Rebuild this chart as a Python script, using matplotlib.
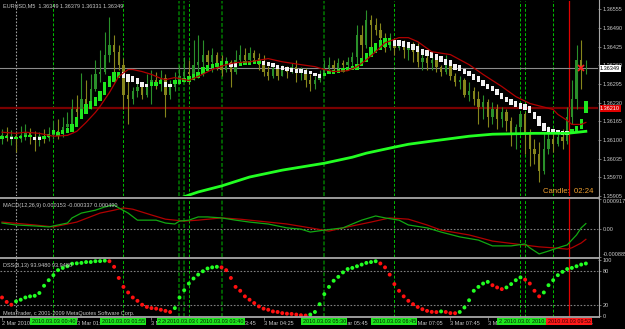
import numpy as np
import matplotlib.pyplot as plt
from matplotlib.lines import Line2D

W, H = 625, 329
BASE = 1.36      # prices below are stored as pips above 1.36000
PIP = 0.0001

# ---- EURUSD M5 candles (pips above 1.36000) ----
c_open = [10.3, 11.6, 10.6, 11.3, 10.3, 11.6, 12.3, 11.0, 9.9, 11.3,
          10.6, 11.6, 13.0, 12.3, 14.4, 15.4, 20.6, 19.9, 24.1, 22.4,
          27.6, 32.8, 33.8, 39.7, 43.1, 40.7, 36.2, 25.8, 24.1, 26.9,
          28.3, 25.8, 29.3, 31.0, 29.3, 31.7, 25.8, 28.3, 31.0, 32.4,
          33.8, 32.8, 36.2, 37.2, 39.7, 37.2, 39.7, 36.2, 34.5, 37.2,
          33.8, 37.9, 39.7, 37.9, 40.4, 38.6, 36.2, 33.8, 32.4, 35.2,
          32.4, 35.2, 33.8, 35.5, 33.8, 34.5, 31.0, 29.3, 31.0, 33.1,
          35.2, 36.2, 35.2, 36.9, 36.2, 37.2, 39.0, 46.6, 43.1, 51.8,
          50.1, 48.3, 45.6, 42.1, 44.9, 42.1, 44.2, 41.4, 42.1, 40.7,
          37.2, 38.6, 36.9, 37.9, 35.5, 33.8, 36.2, 32.4, 30.0, 31.0,
          25.8, 26.9, 24.1, 21.3, 23.1, 17.9, 20.6, 17.2, 19.9, 16.5,
          12.0, 14.4, 18.9, 12.0, 6.8, 5.1, -0.8, 6.8, 10.3, 8.5,
          11.0, 9.6, 17.9, 24.1, 37.9, 34.9]
c_close = [11.6, 10.6, 11.3, 10.3, 11.6, 12.3, 11.0, 9.9, 11.3, 10.6,
           11.6, 13.0, 12.3, 14.4, 15.4, 20.6, 19.9, 24.1, 22.4, 27.6,
           32.8, 33.8, 39.7, 43.1, 40.7, 36.2, 25.8, 24.1, 26.9, 28.3,
           25.8, 29.3, 31.0, 29.3, 31.7, 25.8, 28.3, 31.0, 32.4, 33.8,
           32.8, 36.2, 37.2, 39.7, 37.2, 39.7, 36.2, 34.5, 37.2, 33.8,
           37.9, 39.7, 37.9, 40.4, 38.6, 36.2, 33.8, 32.4, 35.2, 32.4,
           35.2, 33.8, 35.5, 33.8, 34.5, 31.0, 29.3, 31.0, 33.1, 35.2,
           36.2, 35.2, 36.9, 36.2, 37.2, 39.0, 46.6, 43.1, 51.8, 50.1,
           48.3, 45.6, 42.1, 44.9, 42.1, 44.2, 41.4, 42.1, 40.7, 37.2,
           38.6, 36.9, 37.9, 35.5, 33.8, 36.2, 32.4, 30.0, 31.0, 25.8,
           26.9, 24.1, 21.3, 23.1, 17.9, 20.6, 17.2, 19.9, 16.5, 12.0,
           14.4, 18.9, 12.0, 6.8, 5.1, -0.8, 6.8, 10.3, 8.5, 11.0,
           9.6, 17.9, 24.1, 37.9, 34.9, 34.9]
c_high = [13.7, 14.4, 13.4, 12.7, 14.8, 15.4, 14.1, 13.0, 12.7, 13.7,
          14.4, 16.5, 17.2, 17.9, 19.9, 24.1, 25.8, 33.4, 31.0, 32.8,
          37.9, 41.4, 47.6, 52.8, 46.6, 43.1, 38.6, 32.8, 28.3, 31.0,
          29.3, 32.8, 34.5, 33.8, 34.5, 32.8, 31.0, 33.8, 36.2, 39.0,
          37.9, 44.9, 46.6, 44.9, 41.4, 42.1, 40.7, 39.7, 39.0, 37.9,
          41.4, 43.1, 42.1, 42.4, 41.4, 40.4, 39.7, 35.9, 36.9, 35.9,
          36.2, 35.9, 36.9, 37.9, 35.5, 35.2, 32.8, 32.4, 34.5, 37.9,
          39.0, 37.9, 38.6, 37.9, 39.0, 40.7, 50.1, 50.1, 55.2, 53.5,
          52.5, 50.7, 47.3, 47.3, 45.6, 44.9, 44.9, 43.1, 44.2, 43.8,
          40.4, 39.7, 39.3, 38.6, 36.2, 39.7, 36.9, 33.4, 32.4, 31.7,
          30.0, 28.3, 26.9, 25.8, 24.1, 23.1, 22.4, 21.3, 20.6, 17.9,
          15.4, 19.6, 19.6, 13.7, 10.3, 9.2, 12.7, 14.8, 13.7, 12.7,
          13.7, 21.3, 31.0, 43.1, 44.9, 37.9]
c_low = [8.5, 9.6, 8.2, 5.8, 9.2, 9.9, 8.5, 6.1, 7.8, 8.9,
         9.6, 10.3, 10.3, 11.0, 12.7, 14.4, 15.4, 17.9, 19.9, 20.6,
         26.9, 30.3, 32.8, 37.2, 30.0, 34.5, 20.6, 15.4, 22.4, 24.8,
         24.1, 24.8, 22.4, 27.6, 26.9, 17.9, 24.1, 26.9, 29.3, 30.0,
         29.3, 31.0, 31.7, 32.1, 36.2, 33.8, 34.5, 32.1, 33.8, 28.3,
         32.8, 36.2, 36.6, 37.2, 37.2, 34.5, 32.1, 31.0, 31.7, 31.0,
         32.1, 31.7, 33.4, 30.3, 31.0, 28.6, 26.9, 27.6, 30.0, 32.8,
         33.8, 34.5, 34.5, 33.8, 34.5, 35.2, 35.2, 36.9, 42.1, 42.4,
         46.6, 43.1, 40.7, 41.4, 39.7, 41.4, 38.6, 37.9, 37.2, 35.5,
         34.5, 34.5, 34.5, 33.8, 32.1, 32.8, 31.0, 28.9, 27.6, 24.8,
         23.4, 22.0, 15.4, 17.2, 14.4, 15.4, 13.7, 14.4, 13.0, 7.8,
         6.8, 12.7, 5.1, 0.9, 1.6, -4.6, -1.9, 5.1, 5.8, 7.8,
         6.8, 8.5, 15.4, 20.6, 27.6, 33.1]

# Heiken Ashi bodies (pips above 1.36000)
ha_open = [10.3, 10.6, 11.0, 10.3, 10.6, 11.0, 11.0, 11.0, 11.0, 10.3,
           11.0, 12.0, 11.3, 12.0, 12.3, 12.7, 14.4, 17.2, 18.9, 20.6,
           21.7, 23.4, 25.8, 28.3, 30.0, 31.7, 33.8, 32.8, 32.1, 31.4,
           30.3, 29.6, 28.9, 28.9, 29.6, 30.0, 29.3, 29.3, 29.6, 30.0,
           30.3, 31.0, 31.7, 33.1, 34.1, 35.2, 35.5, 36.2, 36.2, 36.9,
           36.9, 35.9, 36.2, 36.2, 36.6, 36.6, 37.6, 37.2, 36.9, 36.2,
           35.9, 35.5, 35.2, 34.8, 34.8, 34.5, 34.1, 33.4, 32.8, 32.1,
           32.8, 33.1, 33.4, 33.8, 34.1, 34.5, 34.5, 35.9, 37.2, 39.0,
           40.4, 41.4, 42.4, 43.1, 44.9, 44.9, 44.5, 44.2, 43.5, 42.8,
           41.7, 41.4, 40.7, 40.0, 39.3, 38.3, 37.9, 36.6, 36.2, 34.8,
           34.1, 33.1, 32.1, 31.0, 29.6, 28.9, 27.6, 26.2, 25.1, 24.1,
           23.4, 22.7, 22.4, 21.7, 19.9, 18.2, 15.8, 14.4, 13.7, 13.4,
           13.0, 13.0, 12.0, 12.3, 13.7, 19.3]
ha_close = [11.3, 11.3, 10.3, 11.0, 11.3, 11.6, 11.6, 9.9, 9.9, 11.3,
            12.0, 13.4, 12.7, 13.4, 14.1, 15.4, 17.9, 20.6, 22.4, 23.4,
            25.1, 26.9, 30.0, 32.1, 33.8, 33.8, 31.7, 30.3, 30.0, 29.3,
            28.3, 28.6, 30.0, 30.0, 31.0, 28.6, 28.3, 30.7, 31.0, 31.4,
            32.1, 32.8, 33.8, 35.5, 36.2, 36.6, 36.9, 37.6, 37.6, 35.5,
            35.5, 37.2, 37.6, 37.6, 37.9, 37.9, 36.2, 35.9, 35.5, 34.8,
            34.5, 34.1, 33.8, 33.4, 33.4, 33.1, 32.8, 32.1, 31.4, 33.4,
            34.1, 34.5, 34.8, 35.2, 35.5, 35.9, 36.6, 38.6, 40.4, 42.4,
            43.8, 44.9, 45.6, 45.6, 42.8, 42.8, 42.4, 42.1, 41.4, 40.7,
            39.7, 39.3, 38.6, 37.9, 37.2, 36.2, 35.9, 34.5, 34.1, 32.8,
            32.1, 31.0, 30.0, 28.9, 27.6, 26.9, 25.5, 24.1, 23.1, 22.0,
            21.3, 20.6, 20.3, 19.3, 17.2, 14.8, 13.0, 12.3, 12.0, 12.0,
            11.6, 11.6, 13.7, 14.8, 17.2, 23.4]

# moving averages (bar, pips)
ma_red_bar = [0, 3, 5, 8, 11, 14, 16, 18, 20, 21, 23, 25, 27, 28, 30, 32, 34, 35, 37, 40,
              42, 45, 48, 50, 53, 57, 60, 64, 67, 69, 71, 74, 76, 78, 80, 82, 85, 87, 89, 92,
              96, 100, 103, 107, 110, 113, 118, 119, 121, 122, 124, 125]
ma_red = [12.7, 12.3, 12.7, 12.3, 11.3, 11.6, 13.0, 16.1, 19.6, 21.7, 26.5, 32.1, 34.5, 34.5,
          33.8, 32.8, 31.4, 31.0, 31.7, 30.7, 32.1, 34.5, 36.2, 36.9, 37.2, 38.3, 37.2, 36.2,
          35.5, 34.5, 33.8, 34.1, 35.5, 37.9, 40.7, 43.8, 45.6, 45.6, 44.2, 40.7, 39.7, 36.2,
          32.8, 28.6, 25.1, 22.7, 20.6, 18.9, 16.8, 15.4, 15.4, 16.1]
ma_green_bar = [38, 42, 47, 53, 60, 69, 75, 78, 84, 87, 92, 100, 105, 114, 121, 125]
ma_green = [-10.3, -8.1, -6.0, -2.9, -0.5, 1.9, 4.0, 5.4, 7.5, 8.5, 9.6, 11.3, 12.0, 12.3, 12.3, 13.0]

last_price = 1.36349
red_level = 1.36210
alert_bar, alert_pips = 124, 35.2
price_ticks = [1.35905, 1.35970, 1.36035, 1.36100, 1.36165, 1.36230,
               1.36295, 1.36360, 1.36425, 1.36490, 1.36555]

# ---- MACD(12,26,9) ----
macd_bar = [0, 3, 7, 10, 11, 14, 15, 17, 20, 22, 24, 25, 27, 29, 30, 33, 35, 37, 38, 40,
            42, 44, 47, 50, 53, 57, 61, 64, 66, 69, 73, 77, 80, 82, 85, 87, 91, 94, 98, 102,
            105, 109, 112, 113, 115, 117, 119, 121, 123, 124, 125]
macd_main = [17, 11, 8, 5, 8, 17, 33, 48, 57, 67, 73, 64, 48, 26, 26, 26, 17, 14, 23, 26,
             36, 36, 33, 26, 20, 14, 2, -2, -11, -5, 2, 26, 39, 33, 26, 11, 2, -11, -26, -36,
             -54, -54, -48, -60, -79, -70, -60, -51, -20, 2, 15.3]      # x 1e-5
sig_bar = [0, 7, 11, 16, 21, 24, 26, 28, 32, 35, 39, 42, 47, 51, 57, 61, 66, 70, 73, 79,
           83, 87, 91, 94, 100, 105, 110, 115, 118, 121, 122, 124, 125]
macd_signal = [20, 11, 5, 20, 48, 57, 64, 60, 42, 29, 23, 26, 33, 29, 20, 14, 2, -8, 2, 20,
               33, 29, 11, -5, -20, -39, -48, -57, -60, -64, -60, -45, -33.7]  # x 1e-5
macd_max, macd_min = 0.000917, -0.000885

# ---- DSS(8,13), one value per bar ----
dss = [33, 25, 20, 26, 29, 33, 35, 36, 41, 54, 64, 73, 82, 86, 89, 93.5, 94.2, 95, 96.5, 96.6,
       98, 98.2, 99, 98, 88, 68, 52, 42, 33, 27, 20, 16, 14, 13, 11, 9, 7, 14, 33, 46,
       58, 67, 74, 80, 85, 87, 88, 87, 82, 68, 52, 45, 35, 29, 23, 17, 13, 11, 8, 7,
       5, 4, 3.5, 2.4, 1.2, 0.6, 2.4, 7, 21, 39, 52, 63, 70, 78, 84, 86, 89, 92, 95, 96.5,
       98, 94, 87, 74, 57, 45, 35, 27, 21, 16, 12, 9, 7.2, 6.8, 8, 7, 5, 4.8, 7, 15,
       28, 45, 52, 58, 61, 55, 51, 48, 51, 57, 64, 69, 65, 58, 45, 35, 42, 55, 64, 73,
       79, 84, 86, 89, 92, 93.9]

# ---- vertical lines / time axis ----
sep_bar = 3                      # day separator
bright_bars = [11, 26, 40, 84, 111, 112, 118]
dark_bars = [38, 39, 47, 69]
now_bar = 121.4
box_bars = [11, 26, 38, 39, 40, 47, 69, 84, 111, 112, 118]
box_texts = ['2010.03.03 00:40', '2010.03.03 01:55', '2010.03.03 02:55', '2010.03.03 03:00',
             '2010.03.03 03:05', '2010.03.03 03:40', '2010.03.03 05:30', '2010.03.03 06:45',
             '2010.03.03 09:00', '2010.03.03 09:05', '2010.03.03 09:35']
now_text = '2010.03.03 09:52'
time_bars = [0, 8, 16, 24, 32, 40, 48, 56, 64, 72, 80, 88, 96, 104, 112, 120]
time_texts = ['2 Mar 2010', '3 Mar 00:25', '3 Mar 01:05', '3 Mar 01:45', '3 Mar 02:25',
              '3 Mar 03:05', '3 Mar 03:45', '3 Mar 04:25', '3 Mar 05:05', '3 Mar 05:45',
              '3 Mar 06:25', '3 Mar 07:05', '3 Mar 07:45', '3 Mar 08:25', '3 Mar 09:05',
              '3 Mar 09:45']

plt.rcParams['font.family'] = ['Liberation Sans', 'DejaVu Sans']
FS = 4.0
TXT = '#c8c8c8'
GRID = '#808080'


def px_rect(x0, y0, x1, y1):
    return [x0 / W, 1 - y1 / H, (x1 - x0) / W, (y1 - y0) / H]


def to_price(p):
    return BASE + np.asarray(p, dtype=float) * PIP


fig = plt.figure(figsize=(W / 100, H / 100), dpi=100)
fig.patch.set_facecolor('black')

ax_main = fig.add_axes(px_rect(0, 1, 598, 196))
ax_macd = fig.add_axes(px_rect(0, 199, 598, 257))
ax_dss = fig.add_axes(px_rect(0, 259, 598, 317))

n = len(c_open)
bars = np.arange(n)
for ax in (ax_main, ax_macd, ax_dss):
    ax.set_facecolor('black')
    ax.set_xlim(-0.43, 127.6)
    for s in ax.spines.values():
        s.set_visible(False)
    ax.yaxis.tick_right()
    ax.tick_params(axis='y', colors=GRID, labelcolor=TXT, labelsize=FS, length=2, pad=1.5, width=0.6)
    ax.tick_params(axis='x', bottom=False, labelbottom=False)
    ax.axvline(sep_bar, color='#a0a0a0', lw=0.8, ls=(0, (1.5, 1.5)), zorder=0.5)
    for b in bright_bars:
        ax.axvline(b, color='#00c000', lw=0.7, ls=(0, (3, 2)), zorder=0.5)
    for b in dark_bars:
        ax.axvline(b, color='#006000', lw=1.4, ls=(0, (2, 1)), zorder=0.5)
    ax.axvline(now_bar, color='#e00000', lw=0.9, zorder=0.5)

# ---- main window ----
o, c, hi, lo = map(to_price, (c_open, c_close, c_high, c_low))
cols = np.where(c >= o, '#2a902a', '#86861c')
ax_main.axhline(last_price, color='#8c8c8c', lw=0.8, zorder=0.6)
ax_main.axhline(red_level, color='#7a0000', lw=1.6, zorder=0.6)
ax_main.vlines(bars, lo, hi, colors=cols, lw=0.8, zorder=1)
body = np.where(np.abs(c - o) < 0.00002, 0.00002, c - o)
ax_main.bar(bars, body, bottom=o, width=0.5, color=cols, zorder=1.1)

hao, hac = to_price(ha_open), to_price(ha_close)
ha_cols = np.where(hac >= hao, '#1ee61e', '#f2f2f2')
ax_main.bar(bars, hac - hao, bottom=hao, width=0.72, color=ha_cols, zorder=2)
ax_main.plot(ma_red_bar, to_price(ma_red), color='#b00000', lw=0.9, zorder=3)
ax_main.plot(ma_green_bar, to_price(ma_green), color='#22ff22', lw=2, zorder=3)
ax_main.plot([alert_bar], to_price([alert_pips]), marker='x', color='#ff2020', ms=4, mew=1.2, zorder=4)

ax_main.set_ylim(to_price(-9.1), to_price(58.35))
ax_main.set_yticks(price_ticks)
ax_main.set_yticklabels([f'{p:.5f}' for p in price_ticks])
ax_main.text(1.003, last_price, f'{last_price:.5f}', transform=ax_main.get_yaxis_transform(),
             fontsize=FS, color='black', va='center', ha='left', clip_on=False, zorder=5,
             bbox=dict(boxstyle='square,pad=0.2', fc='white', ec='none'))
ax_main.text(1.003, red_level, f'{red_level:.5f}', transform=ax_main.get_yaxis_transform(),
             fontsize=FS, color='white', va='center', ha='left', clip_on=False, zorder=5,
             bbox=dict(boxstyle='square,pad=0.2', fc='#e00000', ec='none'))

# ---- MACD ----
ax_macd.axhline(0, color=GRID, lw=0.8, ls=(0, (1.5, 1.5)), zorder=0.6)
ax_macd.plot(sig_bar, np.array(macd_signal) * 1e-5, color='#b00000', lw=0.9, zorder=2)
ax_macd.plot(macd_bar, np.array(macd_main) * 1e-5, color='#12a812', lw=0.9, zorder=3)
ax_macd.set_ylim(macd_min, macd_max)
ax_macd.set_yticks([macd_min, 0, macd_max])
ax_macd.set_yticklabels(['-0.000885', '0.00', '0.000917'])
labs = ax_macd.get_yticklabels()
labs[0].set_va('bottom')
labs[2].set_va('top')

# ---- DSS ----
dss_arr = np.array(dss)
dss_up = np.r_[False, dss_arr[1:] >= dss_arr[:-1]]
ax_dss.axhline(80, color=GRID, lw=0.8, ls=(0, (1.5, 1.5)), zorder=0.6)
ax_dss.axhline(20, color=GRID, lw=0.8, ls=(0, (1.5, 1.5)), zorder=0.6)
ax_dss.scatter(bars, dss_arr, c=np.where(dss_up, '#22ff22', '#ff1010'), s=8, linewidths=0, zorder=3)
ax_dss.set_ylim(-2, 102)
ax_dss.set_yticks([0, 20, 80, 100])
ax_dss.set_yticklabels(['0', '20', '80', '100'])

ax_dss.set_xticks(time_bars)
ax_dss.set_xticklabels(time_texts)
ax_dss.tick_params(axis='x', bottom=True, labelbottom=True, colors=GRID, labelcolor=TXT,
                   labelsize=FS, length=2, width=0.6, pad=1.2)
for lab in ax_dss.get_xticklabels():
    lab.set_ha('left')

for b, t in zip(box_bars, box_texts):
    ax_dss.annotate(t, xy=(b, 0), xycoords=('data', 'axes fraction'), xytext=(0, -3.3),
                    textcoords='offset points', ha='center', va='center', fontsize=FS,
                    color='#002000', annotation_clip=False, zorder=6,
                    bbox=dict(boxstyle='square,pad=0.25', fc='#1ee61e', ec='none'))
ax_dss.annotate(now_text, xy=(now_bar, 0), xycoords=('data', 'axes fraction'), xytext=(0, -3.3),
                textcoords='offset points', ha='center', va='center', fontsize=FS,
                color='#300000', annotation_clip=False, zorder=7,
                bbox=dict(boxstyle='square,pad=0.25', fc='#ff1a1a', ec='none'))

# panel separators and right border
for yy in (197.5, 258.3, 317.3):
    fig.add_artist(Line2D([0, 598.5 / W], [1 - yy / H] * 2, color='#a8a8a8', lw=1.3))
fig.add_artist(Line2D([598.5 / W] * 2, [1, 1 - 317.3 / H], color='#a8a8a8', lw=0.8))

# labels
fig.text(3 / W, 1 - 6 / H, 'EURUSD,M5  1.36349 1.36379 1.36331 1.36349', color=TXT,
         fontsize=FS, va='center', ha='left')
fig.text(543 / W, 1 - 191.5 / H, 'Candle:  02:24', color='#f0a030', fontsize=5.6,
         va='center', ha='left')
fig.text(3 / W, 1 - 205.5 / H, 'MACD(12,26,9) 0.000153 -0.000337 0.000490', color=TXT,
         fontsize=FS, va='center', ha='left')
fig.text(3 / W, 1 - 265 / H, 'DSS(8,13) 93.9480 93.9480', color=TXT,
         fontsize=FS, va='center', ha='left')
fig.text(3 / W, 1 - 313.5 / H, 'MetaTrader, c 2001-2009 MetaQuotes Software Corp.', color=TXT,
         fontsize=FS, va='center', ha='left')

fig.savefig('out.png', dpi=100, facecolor='black')
